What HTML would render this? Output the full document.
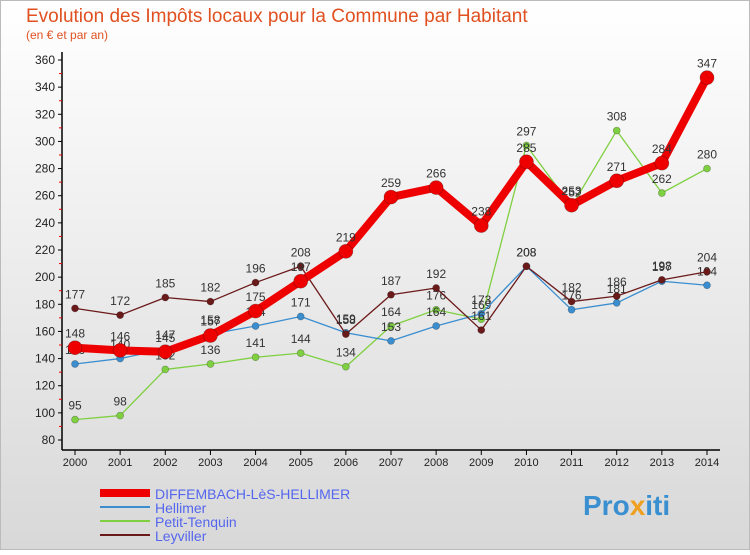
<!DOCTYPE html>
<html><head><meta charset="utf-8"><style>
body{margin:0;width:750px;height:550px;overflow:hidden;font-family:"Liberation Sans",sans-serif;}
</style></head><body>
<svg width="750" height="550" xmlns="http://www.w3.org/2000/svg">
<defs><linearGradient id="bg" x1="0" y1="0" x2="0" y2="1"><stop offset="0" stop-color="#ffffff"/><stop offset="1" stop-color="#d8d8d8"/></linearGradient></defs>
<rect x="0.5" y="0.5" width="749" height="549" fill="url(#bg)" stroke="#bbb"/>
<text x="26" y="22" font-size="19" fill="#e05020">Evolution des Impôts locaux pour la Commune par Habitant</text>
<text x="26" y="39" font-size="12" fill="#e05020">(en € et par an)</text>
<g id="axes"></g><g id="series"></g><g id="legend"></g>
<text x="583" y="515" font-size="28" font-weight="bold" fill="#3a8fd0">Pro<tspan fill="#f0a020">x</tspan>iti</text>
</svg>
<script>
const years=[2000,2001,2002,2003,2004,2005,2006,2007,2008,2009,2010,2011,2012,2013,2014];
const yTicks=[80,100,120,140,160,180,200,220,240,260,280,300,320,340,360];
const diffembach=[148,146,145,157,175,197,219,259,266,238,285,253,271,284,347];
const hellimer=[136,140,147,158,164,171,159,153,164,173,208,176,181,197,194];
const petitTenquin=[95,98,132,136,141,144,134,164,176,169,297,252,308,262,280];
const leyviller=[177,172,185,182,196,208,158,187,192,161,208,182,186,198,204];
const NS="http://www.w3.org/2000/svg";
const X=i=>75+i*(707-75)/14;
const Y=v=>440-(v-80)*(380/280);
function mk(t,a,p){const e=document.createElementNS(NS,t);for(const k in a)e.setAttribute(k,a[k]);p.appendChild(e);return e;}
const ax=document.getElementById('axes');
let l=mk('line',{x1:62,y1:52,x2:62,y2:450,stroke:'#000','stroke-width':1.5},ax);


l=mk('line',{x1:62,y1:450,x2:720,y2:450,stroke:'#000','stroke-width':1.5},ax);


yTicks.forEach((v,i)=>{
 mk('line',{x1:58,y1:Y(v),x2:62,y2:Y(v),stroke:'#000'},ax);
 if(i<yTicks.length-1)mk('line',{x1:59,y1:Y(v+10),x2:62,y2:Y(v+10),stroke:'#e00'},ax);
 const t=mk('text',{x:55,y:Y(v)+4,'font-size':12,'text-anchor':'end',fill:'#222'},ax);t.textContent=v;
 
 
});
years.forEach((y,i)=>{
 mk('line',{x1:X(i),y1:450,x2:X(i),y2:455,stroke:'#000'},ax);
 const t=mk('text',{x:X(i),y:466,'font-size':11,'text-anchor':'middle',fill:'#222'},ax);t.textContent=y;
 
 
});
const sg=document.getElementById('series');
function series(data,color,w,r,name){
 const g=mk('g',{},sg);
 
 
 mk('polyline',{points:data.map((v,i)=>X(i)+','+Y(v)).join(' '),fill:'none',stroke:color,'stroke-width':w,'stroke-linejoin':'round'},g);
 data.forEach((v,i)=>{
  const c=mk('circle',{cx:X(i),cy:Y(v),r:r,fill:color,stroke:'rgba(0,0,0,0.3)','stroke-width':0.7},g);
  
  
  const t=mk('text',{x:X(i),y:Y(v)-10,'font-size':12,'text-anchor':'middle',fill:'#333'},g);t.textContent=v;
  
  
 });
}
series(petitTenquin,'#7ed040',1.3,3.5,'series-petit-tenquin');
series(hellimer,'#3a8ed0',1.3,3.5,'series-hellimer');
series(leyviller,'#6b1a1a',1.3,3.5,'series-leyviller');
series(diffembach,'#ee0000',8,7,'series-diffembach');
const lg=document.getElementById('legend');
[['DIFFEMBACH-LèS-HELLIMER','#ee0000',8],['Hellimer','#3a8ed0',2],['Petit-Tenquin','#7ed040',2],['Leyviller','#6b1a1a',2]].forEach((d,i)=>{
 const y=493+i*14;
 const g=mk('g',{},lg);
 
 
 mk('line',{x1:100,y1:y,x2:150,y2:y,stroke:d[1],'stroke-width':d[2]},g);
 const t=mk('text',{x:155,y:y+6,'font-size':14,fill:'#5566ee'},g);t.textContent=d[0];
});
</script>
</body></html>
